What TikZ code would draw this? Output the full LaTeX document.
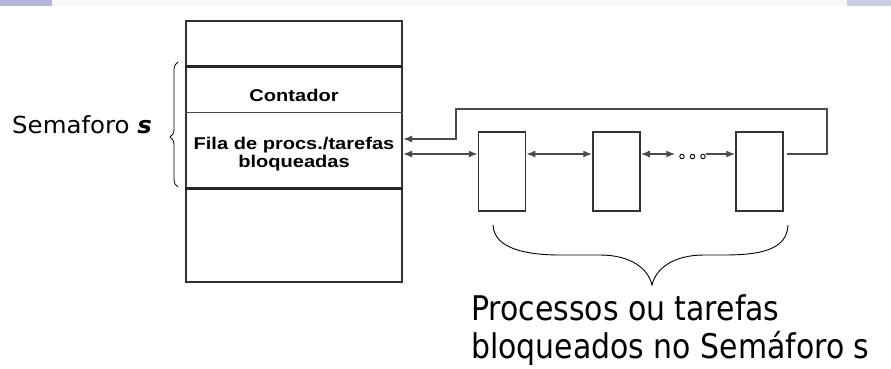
\documentclass[tikz,border=0pt]{standalone}
\usepackage{fontspec}
\setmainfont{DejaVu Sans}
\newfontfamily\semfont[FakeStretch=1.04]{DejaVu Sans}
\newfontfamily\fieldfont[FakeStretch=1.18]{Liberation Sans}
\newfontfamily\notefont[FakeStretch=0.88]{DejaVu Sans}
\usepackage{tikz}
\usetikzlibrary{arrows.meta,decorations.pathreplacing}

\definecolor{stripgray}{HTML}{F7F7F7}
\definecolor{leftblue}{HTML}{B4B4D8}
\definecolor{rightblue}{HTML}{CCCCE2}
\definecolor{boxgray}{HTML}{333333}
\definecolor{linkgray}{HTML}{4A4A4A}
\definecolor{sepdark}{HTML}{262626}

\begin{document}
\begin{tikzpicture}[x=1pt,y=-1pt]
  \tikzset{>={Latex[length=9pt,width=7pt]}}
  \tikzset{
    procbox/.style={draw=boxgray, line width=1.5pt, minimum width=47pt,
      minimum height=79pt, inner sep=0pt},
    link/.style={draw=linkgray, line width=1.5pt},
    ring/.style={draw=black, circle, inner sep=0pt, minimum size=4.5pt, line width=0.9pt},
    fieldtext/.style={font=\fieldfont\bfseries\fontsize{17}{18.5}\selectfont, inner sep=0pt}
  }
  \useasboundingbox (0,0) rectangle (891,369);

  % slide strip
  \fill[stripgray] (0,0) rectangle (891,6);
  \fill[leftblue] (0,0) rectangle (52,6);
  \fill[rightblue] (847,0) rectangle (891,6);

  % semaphore record
  \node [draw=boxgray, line width=2pt, minimum width=216pt, minimum height=261pt,
    inner sep=0pt] (mem) at (294,151.5) {};
  \draw [sepdark, line width=3pt] (mem.west |- 0,67) -- (mem.east |- 0,67);
  \draw [linkgray, line width=1pt] (mem.west |- 0,112) -- (mem.east |- 0,112);
  \draw [sepdark, line width=3pt] (mem.west |- 0,188) -- (mem.east |- 0,188);
  \node [fieldtext, anchor=base] (cont) at (294,101) {Contador};
  \node [fieldtext, align=center, anchor=north] (fila) at (294,136.5)
    {Fila de procs./tarefas\\bloqueadas};

  \node [font=\semfont\fontsize{23.5}{27}\selectfont, anchor=base west, inner sep=0pt]
    (sem) at (12,133) {Semaforo \textbf{\textit{s}}};
  \draw [decorate, decoration={brace, amplitude=8pt, aspect=0.4}, line width=0.8pt]
    (178,187) -- (178,62);

  % blocked queue
  \foreach \i/\x in {1/502,2/616.5,3/759.5} {
    \node [procbox] (p\i) at (\x,171.5) {};
  }
  \foreach \i/\x in {1/682,2/692.5,3/703} {
    \node [ring] (d\i) at (\x,156.5) {};
  }
  \coordinate (lvl) at (0,154);
  \draw [link, <->] (mem.east |- lvl) -- (p1.west |- lvl);
  \draw [link, <->] (p1.east |- lvl) -- (p2.west |- lvl);
  \draw [link, <->] (p2.east |- lvl) -- ([xshift=-4pt]d1.west |- lvl);
  \draw [link, ->] (d3.east |- lvl) -- (p3.west |- lvl);

  \coordinate (ret) at (827,109);
  \coordinate (turn) at (456,139);
  \draw [link, ->] ([xshift=3pt]p3.east |- lvl) -| (ret) -| (turn) -- (mem.east |- turn);

  % brace under the queue
  \coordinate (tip) at (652,285);
  \draw [line width=0.9pt] (493,225) .. controls (494,250) and (530,255) .. (560,255)
    -- (600,255) .. controls (630,255) and (648,268) .. (tip)
    .. controls (656,268) and (674,255) .. (704,255)
    -- (724,255) .. controls (760,255) and (787,250) .. (788,225);
  \node [font=\notefont\fontsize{34}{38}\selectfont, align=left, anchor=north west,
    inner sep=0pt] (note) at (471,294) {Processos ou tarefas\\bloqueados no Semáforo s};
\end{tikzpicture}
\end{document}
